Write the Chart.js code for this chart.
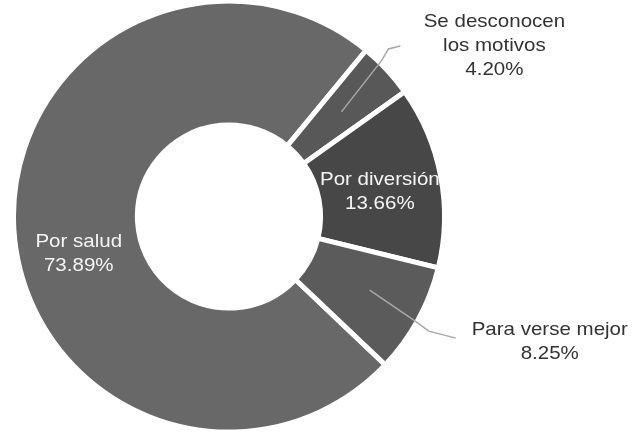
<!DOCTYPE html>
<html>
<head>
<meta charset="utf-8">
<script src="https://cdn.jsdelivr.net/npm/chart.js@4"></script>
<style>
  html, body { margin: 0; padding: 0; background: #fff; }
  #wrap { width: 633px; height: 433px; }
</style>
</head>
<body>
<div id="wrap"><canvas id="motivosDonut" width="633" height="433"></canvas></div>
<script>
// data
const categories = ["Por salud", "Se desconocen los motivos", "Por diversión", "Para verse mejor"];
const percentages = [73.89, 4.20, 13.66, 8.25];
const sliceColors = ["#686869", "#585858", "#474747", "#5b5b5b"];

// how each label is written (lines before the percentage)
const labelLines = [["Por salud"], ["Se desconocen", "los motivos"], ["Por diversión"], ["Para verse mejor"]];

// label placement relative to the slice centroid; outside labels get a leader line
const labelPlacement = [
  { inside: true, dx: 3, dy: 28 },
  { inside: false, text: [153, -66], leader: [[0, 0], [40, -51], [47, -63], [59, -66]] },
  { inside: true, dx: 0, dy: 4 },
  { inside: false, text: [186, 52], leader: [[6, 0], [50, 30], [65, 41], [92, 48]] }
];

const LINE_H = 24;
const FONT = "19px 'Liberation Sans', Arial, sans-serif";

const sliceLabels = {
  id: "sliceLabels",
  afterDatasetsDraw(chart) {
    const ctx = chart.ctx;
    const arcs = chart.getDatasetMeta(0).data;
    arcs.forEach((arc, i) => {
      const c = arc.getCenterPoint();
      const p = labelPlacement[i];
      const lines = labelLines[i].concat([percentages[i].toFixed(2) + "%"]);
      let cx, cy;
      ctx.save();
      if (p.inside) {
        cx = c.x + p.dx;
        cy = c.y + p.dy;
        ctx.fillStyle = "#f5f5f5";
      } else {
        ctx.strokeStyle = "#a8a8a8";
        ctx.lineWidth = 1.5;
        ctx.beginPath();
        p.leader.forEach(([lx, ly], k) => {
          if (k === 0) ctx.moveTo(c.x + lx, c.y + ly);
          else ctx.lineTo(c.x + lx, c.y + ly);
        });
        ctx.stroke();
        cx = c.x + p.text[0];
        cy = c.y + p.text[1];
        ctx.fillStyle = "#333333";
      }
      ctx.font = FONT;
      ctx.textAlign = "center";
      ctx.textBaseline = "middle";
      const top = cy - (lines.length - 1) * LINE_H / 2;
      lines.forEach((t, k) => {
        ctx.save();
        ctx.translate(cx, top + k * LINE_H);
        ctx.scale(1.08, 1);
        ctx.fillText(t, 0, 0);
        ctx.restore();
      });
      ctx.restore();
    });
  }
};

new Chart(document.getElementById("motivosDonut"), {
  type: "doughnut",
  data: {
    labels: categories,
    datasets: [
      {
        data: percentages,
        backgroundColor: sliceColors,
        borderColor: "#ffffff",
        borderWidth: 5,
      },
    ],
  },
  options: {
    responsive: false,
    animation: false,
    rotation: 133.5,
    radius: 215.5,
    cutout: "42.5%",
    layout: { padding: { left: 14, right: 189, top: 2, bottom: 2 } },
    plugins: {
      legend: { display: false },
      tooltip: { enabled: false },
    },
  },
  plugins: [sliceLabels],
});
</script>
</body>
</html>
